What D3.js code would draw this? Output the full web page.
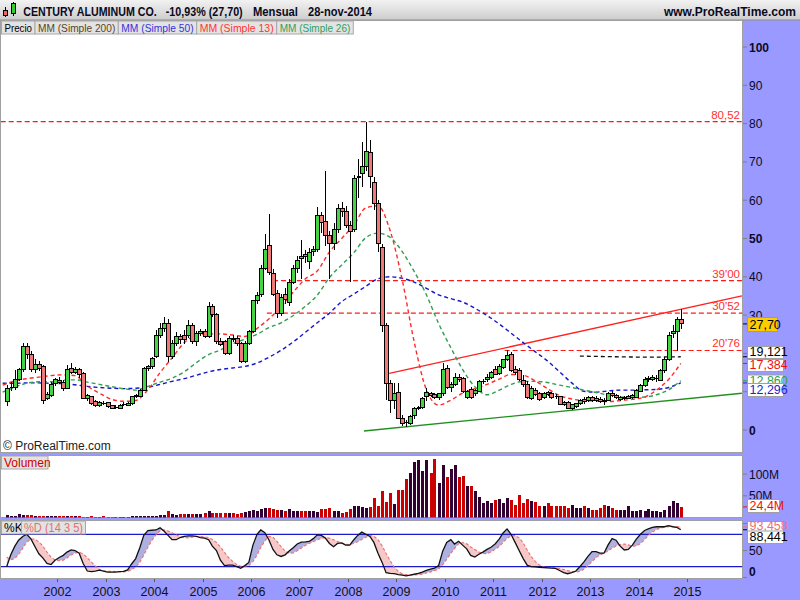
<!DOCTYPE html>
<html>
<head>
<meta charset="utf-8">
<script src="https://cdn.jsdelivr.net/npm/d3@7"></script>
<style>
html,body{margin:0;padding:0;background:#fff;}
svg{display:block;}
text{font-family:"Liberation Sans",Arial,Helvetica,sans-serif;}
</style>
</head>
<body>
<svg id="chart" width="800" height="600"></svg>
<script>
// ================= DATA =================
const titleParts = ["CENTURY ALUMINUM CO.", "-10,93% (27,70)", "Mensual", "28-nov-2014"];
const siteLabel = "www.ProRealTime.com";
const legendLabels = ["Precio", "MM (Simple 200)", "MM (Simple 50)", "MM (Simple 13)", "MM (Simple 26)"];
const firstCandle = "2000-12-15";   // monthly candles, Dec 2000 .. Nov 2014

const open = [7.4,10.9,11.2,13.2,15.7,21.9,19.6,15.7,17.0,16.5,8.3,9.1,12.2,12.9,12.4,10.9,16.1,15.0,15.8,14.8,
8.3,8.7,7.4,6.3,7.1,7.1,6.3,5.8,5.7,6.6,6.5,6.8,8.7,8.7,10.4,16.1,16.5,19.1,24.8,26.5,
27.9,19.1,22.6,24.5,24.8,24.8,27.4,23.1,25.3,25.8,24.5,32.2,30.1,23.1,23.1,20.0,23.9,24.0,22.6,17.9,
22.6,25.7,33.7,35.4,42.2,48.2,40.9,35.7,30.3,35.4,33.2,38.5,42.2,45.3,45.7,43.95,46.6,47.0,56.1,54.4,
50.9,48.7,52.4,57.9,57.0,53.5,52.4,66.0,67.0,68.9,72.5,64.7,59.2,47.7,27.2,12.2,7.7,9.8,3.05,2.1,
1.57,3.66,5.66,5.83,8.7,9.57,9.14,8.53,9.40,16.10,11.14,11.92,13.75,13.32,8.53,10.70,9.57,10.18,12.62,13.23,
13.75,15.67,14.80,16.36,18.28,19.84,15.84,15.49,13.05,12.01,8.27,10.44,9.40,8.53,9.83,9.40,8.88,8.70,7.14,7.14,
5.66,6.09,6.79,8.01,7.66,8.44,8.27,8.01,7.83,7.83,9.6,9.1,8.0,8.3,8.2,8.5,8.5,10.1,11.5,13.1,
13.2,13.5,13.05,15.5,18.45,25.2,25.7,28.8];
const high = [11.7,12.5,15.7,16.1,22.6,22.6,20.5,18.5,18.0,17.0,10.0,12.5,13.5,13.8,13.0,17.0,17.4,16.5,16.3,15.2,
9.5,9.0,7.8,7.5,7.5,7.3,6.6,6.4,6.8,7.2,7.3,9.0,9.5,10.8,16.5,17.0,19.0,26.0,28.0,29.6,
29.0,23.5,25.5,25.0,26.0,28.7,28.0,25.8,26.5,26.5,33.5,33.0,30.5,24.0,23.6,24.5,24.8,24.5,23.0,23.2,
26.0,34.0,36.0,43.0,51.3,56.4,42.0,36.5,35.5,37.0,39.5,43.0,45.5,49.6,47.0,47.5,48.0,58.1,57.0,67.6,
52.0,54.0,59.0,59.5,58.5,54.5,66.5,70.7,75.3,80.52,75.7,66.0,60.0,48.5,28.0,13.0,12.2,12.2,4.0,2.5,
4.0,6.0,6.3,8.5,10.9,10.0,9.6,9.6,17.4,17.0,12.5,14.8,14.5,13.8,10.5,11.2,10.7,13.0,13.2,14.5,
15.5,16.8,17.2,18.6,20.76,20.3,16.8,16.3,14.3,12.8,11.5,11.0,10.0,10.0,10.2,9.8,9.3,9.0,7.6,7.5,
6.9,7.1,8.0,8.6,8.9,9.0,8.8,8.5,8.3,10.0,10.2,9.4,8.9,8.9,9.2,9.3,10.6,12.0,13.9,14.0,
14.3,14.4,16.0,19.0,25.5,27.5,29.5,31.5];
const low = [6.3,10.2,10.5,12.8,15.2,18.5,15.2,15.0,15.5,6.9,7.8,8.7,11.5,11.9,10.2,10.6,14.5,14.6,13.5,8.0,
7.5,6.5,6.0,6.0,6.5,5.8,5.4,5.4,5.5,6.3,6.3,6.6,8.4,8.5,10.2,15.5,16.0,18.8,24.0,25.5,
17.8,18.5,22.0,22.5,22.5,24.0,22.5,22.0,24.5,24.0,24.0,29.5,22.5,22.0,19.6,19.6,23.0,22.0,17.4,17.5,
22.3,25.3,33.0,34.8,41.8,40.5,35.0,29.2,29.8,33.0,32.5,38.0,41.0,39.5,43.5,42.0,45.5,46.5,51.5,48.0,
39.4,47.0,51.5,55.5,52.8,38.7,51.8,60.6,63.5,67.5,63.1,57.5,46.5,25.5,7.8,4.4,5.5,2.8,1.1,0.9,
1.2,3.0,5.2,5.5,7.6,8.5,8.0,7.9,9.0,10.6,10.0,11.5,12.5,9.7,8.2,8.2,9.0,9.8,12.0,12.6,
13.4,14.3,14.4,16.0,17.9,15.2,14.4,12.8,11.3,8.2,7.9,9.0,7.7,8.0,8.8,8.2,8.1,6.4,6.2,5.4,
5.3,5.8,6.4,6.9,7.3,7.4,7.3,7.0,6.6,7.5,8.6,8.2,7.7,7.9,8.0,8.2,8.3,9.8,11.2,12.6,
12.9,12.6,12.8,15.0,18.0,24.0,20.5,26.5];
const close = [10.9,11.2,13.2,15.7,21.9,19.6,15.7,17.0,16.1,7.8,9.3,12.0,13.1,12.4,10.9,15.8,15.0,15.8,14.6,8.3,
8.9,6.8,6.3,7.1,6.8,6.1,5.7,6.0,6.5,6.8,7.0,8.7,9.1,10.4,16.1,16.5,18.7,24.8,26.5,27.9,
19.1,22.6,24.5,23.5,23.5,27.4,23.1,25.3,25.8,24.5,32.2,30.1,23.1,22.2,20.0,23.9,23.6,22.6,17.9,22.6,
25.7,33.7,35.2,42.2,47.2,41.2,35.4,30.5,34.5,34.0,38.5,42.2,44.2,44.8,45.3,46.4,47.0,56.1,54.1,50.9,
48.7,52.4,57.9,57.0,53.5,51.8,65.7,66.2,68.9,72.8,66.3,59.2,48.6,27.4,12.2,7.7,9.6,3.05,1.74,1.8,
3.48,5.66,5.83,8.18,9.83,8.88,8.53,9.40,15.84,11.14,11.92,13.66,13.23,10.18,10.18,8.53,10.44,12.62,12.80,13.66,
15.06,14.62,16.71,18.28,19.58,15.49,15.06,13.23,11.75,8.53,10.88,9.31,8.01,9.57,9.14,8.53,8.53,6.70,6.70,5.66,
6.53,6.79,7.66,7.40,8.53,7.83,7.66,7.40,7.40,9.57,8.9,8.5,8.5,8.5,8.7,8.9,10.2,11.5,13.1,13.5,
13.75,13.5,15.5,18.45,24.8,25.7,28.9,27.70];
// volume in millions
const volume = [6,3.5,3.5,8.3,6,6,6,3.5,3.5,3.5,3.5,3.5,
3.5,3.5,3.5,3.5,3.5,3.5,3.5,0.5,0.5,3.5,0.5,0.5,
3.5,0.5,0.5,0.5,0.5,0.5,0.5,3.5,3.5,3.5,3.5,3.5,
3.5,4.5,6,6,16,8.3,6,8.3,8.3,8.3,8.3,8.3,
8.3,11.4,16,11.4,11.4,11.4,11.4,11.4,9.8,8.3,11.4,13.7,
16,17.4,16,19,21,21.3,19,17.4,17.4,16,19,16,
16,16,14.5,14.5,16,13.7,19.8,19.8,21.3,15,15,11.4,
13.7,19.8,26.7,26.7,25.2,21.3,25.2,44.3,26.7,61.2,36.6,57.4,31.3,63.5,
63.4,88,103,129,133,108,133,103,135,80,121,94,111,121,94,96,73,73,61,48,33,37,34,40,42,34,44,40,29,52,
34,42,38,36,26.5,26.5,34,26.5,26.5,26.5,26.5,21,29,21,21,26.5,21,17,17,21,29,26.5,21,17,17,17,26.5,15.7,15.7,17,
15.7,19,15.7,15.7,13.4,17,26.5,38,34,24.4];
// stochastic %K and %D (14 3 5)
const stochK = [20,42,58,69,76,80,72,58,44,36,26,24,32,37,41,47,51,50,45,26,
12,11,12,13.5,12,10,10,10,11,11.5,14,25,35,55,78,87,87.5,88,92,86,
78,70,70,74,76,77,77,76,74,73,70,58,50,32,22,22.8,22.8,20,17,22,
28,60,80,88,83,70,52,42,39,42,49,55,62,65.5,66,66.7,72,79,78,73,
63,57,63,64,60,60,70,78,84,80,76,65,45,28,9,7.5,7,5.5,4.5,3.2,
4.5,6,7.5,10,13,15.5,17.5,22,48,65,70,62,67,60,53,41,38,43,47,52,
56,62,71,82,90,80,65,50,35,22.5,20,19.5,19,18.5,18,17.5,16.8,13,9,7,
9,12,20,29,39,48,48,45,45,60,72,69,58,51,52,60,71,80,87,90,
93,94,94,94,96,94,93,88.441];
const stochD = [38,33,35,42.8,54,65,71,71,66,58,47.2,37.6,32.4,31,32,36.2,41.6,45.2,46.8,43.8,
36.8,28.8,21.2,14.9,12.1,11.7,11.5,11.1,10.6,10.5,11.3,14.3,19.3,28.1,41.4,56,68.5,79.1,86.5,88.1,
86.3,82.8,79.2,75.6,73.6,73.4,74.8,76,76,75.4,74,70.2,65,56.6,46.4,37,29.9,23.9,20.9,20.9,
22,29.4,41.4,55.6,67.8,76.2,74.6,67,57.2,49,44.8,45.4,49.4,54.7,59.5,63,66.4,69.8,72.3,73.7,
73,70,66.8,64,61.4,60.8,63.4,66.4,70.4,74.4,77.6,76.6,70,58.8,44.6,30.9,19.3,11.4,6.7,5.5,
4.9,4.7,5.1,6.2,8.2,10.4,12.7,15.6,23.2,33.6,44.5,53.4,62.4,64.8,62.4,56.6,51.8,47,44.4,44.2,
47.2,52,57.6,64.6,72.2,77,77.6,73.4,64,50.5,38.5,29.4,23.2,19.9,19,18.5,18,16.8,14.9,12.7,
11,10,11.4,15.4,21.8,29.6,36.8,41.8,45,49.2,54,58.2,60.8,62,60.4,58,58.4,62.8,70,77.6,
84.2,88.8,91.6,93,94.2,94.4,94.2,93.458];
// moving averages, one value every 3 months from Nov 2000
const maStart = "2000-11-15";
const ma13 = [11.7,12.8,13.4,13.8,14.2,14.4,14.2,11.5,9.6,8.0,7.5,7.7,10.5,15.0,18.8,22.8,24.7,25.1,25.1,24.8,
24.4,26.5,29.0,32.2,36.0,39.5,41.5,46.5,50.0,53.5,58.0,58.5,52.0,39.0,23.0,10.5,6.5,7.8,9.6,10.8,
11.9,13.3,14.5,14.3,12.8,10.8,9.0,8.1,7.7,7.6,7.4,7.7,8.0,8.6,10.4,13.2,17.384];
const ma26 = [9.9,11.2,12.2,12.6,12.6,13.0,13.1,12.5,11.9,11.3,10.8,10.4,11.4,12.5,13.5,15.2,17.6,19.7,20.9,22.5,
23.7,25.0,26.7,28.0,29.9,32.3,35.2,39.8,43.1,46.3,50.2,51.4,50.3,46.5,41.4,35.3,27.8,21.5,15.8,11.3,
9.2,10.4,11.9,12.7,12.7,12.4,11.7,11.1,10.4,9.8,9.1,8.6,8.5,8.6,9.2,10.5,12.86];
const ma50 = [12.2,12.2,12.3,12.3,12.2,12.1,11.8,11.4,11.1,10.9,10.8,10.9,11.2,11.9,12.7,13.4,14.3,15.2,15.8,16.2,
16.6,17.5,19.0,20.8,23.0,25.5,28.0,30.5,33.5,35.5,37.5,39.5,40.0,39.6,38.6,37.0,35.3,34.3,33.4,31.8,
29.9,27.7,25.3,22.8,20.4,18.0,15.2,12.3,10.1,9.9,10.2,10.4,10.4,10.5,10.6,11.1,12.296];
const ma200Start = "2012-10-15";
const ma200 = [19.3,19.28,19.26,19.24,19.22,19.2,19.18,19.16,19.14,19.12,19.1,19.08,19.07,19.06,19.05,19.04,
19.03,19.03,19.03,19.04,19.05,19.06,19.08,19.09,19.1,19.121];
// horizontal levels and trend lines
const levels = [80.52, 39.00, 30.52, 20.76];
const levelLabels = ["80,52", "39'00", "30'52", "20'76"];
const levelStarts = ["2000-09-01", "2006-06-15", "2006-04-30", "2011-03-28"];
const trendRed = [["2008-11-08", 14.8], ["2016-02-19", 35.0]];
const trendGreen = [["2008-05-01", -0.26], ["2016-02-19", 9.6]];
const years = [2002,2003,2004,2005,2006,2007,2008,2009,2010,2011,2012,2013,2014,2015];
const priceTicks = [0,10,20,30,40,50,60,70,80,90,100];
const priceTickLabels = ["0","","","30","40","50","60","70","80","90","100"]; // 10 and 20 are covered by value boxes
const volTicks = [50,100];
const stochTicks = [0,50,100];
const stochTickLabels = ["0","50",""];  // 100 is covered by value boxes
const stochBands = [80,20];

// ================= SETUP =================
const parse = d3.timeParse("%Y-%m-%d");
const svg = d3.select("#chart");
const PL = 0.5, PR = 742.5;
const priceTop = 20.5, priceBot = 452.5;
const volTop = 455.5, volBot = 517.5;
const stTop = 520.5, stBot = 578.5;

const x = d3.scaleTime().domain([new Date(2002,0,1), new Date(2015,0,1)]).range([57.3, 687]);
const yP = d3.scaleLinear().domain([0,100]).range([430, 47]);
const yV = d3.scaleLinear().domain([0,100]).range([517.5, 474.1]);
const yS = d3.scaleLinear().domain([0,100]).range([577.5, 523.5]);

const d0 = parse(firstCandle);
const candles = close.map((c,i) => ({
  date: new Date(d0.getFullYear(), d0.getMonth()+i, 15),
  o: open[i], h: high[i], l: low[i], c: c, v: volume[i], k: stochK[i], d: stochD[i]
}));
const m0 = parse(maStart);
const maDate = i => new Date(m0.getFullYear(), m0.getMonth()+3*i, 15);
const m200 = parse(ma200Start);

const defs = svg.append("defs");
const grad = defs.append("linearGradient").attr("id","hdr").attr("x1",0).attr("y1",0).attr("x2",0).attr("y2",1);
grad.append("stop").attr("offset","0").attr("stop-color","#f2f2f2");
grad.append("stop").attr("offset","1").attr("stop-color","#cdcdcd");
function clip(id, x0, y0, x1, y1){
  defs.append("clipPath").attr("id",id).append("rect").attr("x",x0).attr("y",y0).attr("width",x1-x0).attr("height",y1-y0);
}
clip("cPrice", PL+0.5, priceTop+0.5, PR, priceBot);
clip("cVol", PL+0.5, volTop+0.5, PR, volBot);
clip("cSt", PL+0.5, stTop+0.5, PR, stBot);

// background
svg.append("rect").attr("width",800).attr("height",600).attr("fill","#9999ff");
// header
svg.append("rect").attr("x",0).attr("y",0).attr("width",800).attr("height",20).attr("fill","url(#hdr)");
svg.append("line").attr("x1",0).attr("x2",800).attr("y1",20).attr("y2",20).attr("stroke","#8a8a8a");
// icon
svg.append("line").attr("x1",5.5).attr("x2",5.5).attr("y1",7).attr("y2",17).attr("stroke","#000");
svg.append("rect").attr("x",3.5).attr("y",10.5).attr("width",4).attr("height",5).attr("fill","#ee6666").attr("stroke","#000");
svg.append("line").attr("x1",13.5).attr("x2",13.5).attr("y1",2).attr("y2",16).attr("stroke","#000");
svg.append("rect").attr("x",11.5).attr("y",3.5).attr("width",4).attr("height",10).attr("fill","#33cc33").attr("stroke","#000");
const titleX = [23.3, 165.7, 253, 308], titleW = [133.4, 77, 45, 64];
titleParts.forEach((t,i) => {
  svg.append("text").attr("x",titleX[i]).attr("y",15.5).attr("font-size",12).attr("font-weight","bold")
    .attr("fill","#0a0a1e").attr("textLength",titleW[i]).attr("lengthAdjust","spacingAndGlyphs").text(t);
});
svg.append("text").attr("x",796).attr("y",15.5).attr("text-anchor","end").attr("font-size",12).attr("font-weight","bold")
  .attr("fill","#0a0a1e").text(siteLabel);

// panels
[[priceTop,priceBot],[volTop,volBot],[stTop,stBot]].forEach(([a,b]) => {
  svg.append("rect").attr("x",PL).attr("y",a).attr("width",PR-PL).attr("height",b-a)
    .attr("fill","#fff").attr("stroke","#a0a0a0");
});

// ================= PRICE PANEL =================
const gp = svg.append("g").attr("clip-path","url(#cPrice)");
levels.forEach((lv,i) => {
  gp.append("line").attr("x1",x(parse(levelStarts[i]))).attr("x2",PR).attr("y1",yP(lv)).attr("y2",yP(lv))
    .attr("stroke","#ff1a1a").attr("stroke-width",1.2).attr("stroke-dasharray","5,3");
});
[[trendRed,"#ff2020"],[trendGreen,"#209020"]].forEach(([t,col]) => {
  gp.append("line").attr("x1",x(parse(t[0][0]))).attr("y1",yP(t[0][1])).attr("x2",x(parse(t[1][0]))).attr("y2",yP(t[1][1]))
    .attr("stroke",col).attr("stroke-width",1.3);
});
const maLine = d3.line().x(d => x(d[0])).y(d => yP(d[1])).curve(d3.curveMonotoneX);
[[ma50,"#1515cc"],[ma26,"#2f9f4f"],[ma13,"#ff2a2a"]].forEach(([arr,col]) => {
  gp.append("path").attr("d", maLine(arr.map((v,i) => [maDate(i), v])))
    .attr("fill","none").attr("stroke",col).attr("stroke-width",1.4).attr("stroke-dasharray","4,3");
});
gp.append("path").attr("d", maLine(ma200.map((v,i) => [new Date(m200.getFullYear(), m200.getMonth()+i, 15), v])))
  .attr("fill","none").attr("stroke","#111").attr("stroke-width",1.3).attr("stroke-dasharray","4,3");
const gc = gp.append("g").attr("shape-rendering","crispEdges");
candles.forEach(d => {
  const cx = Math.round(x(d.date)) + 0.5;
  gc.append("line").attr("x1",cx).attr("x2",cx).attr("y1",yP(d.h)).attr("y2",yP(d.l)).attr("stroke","#000");
  const top = yP(Math.max(d.o,d.c)), bot = yP(Math.min(d.o,d.c));
  if (bot - top < 1.5) {
    gc.append("line").attr("x1",cx-2).attr("x2",cx+2).attr("y1",(top+bot)/2).attr("y2",(top+bot)/2)
      .attr("stroke","#000").attr("stroke-width",1.5);
  } else {
    gc.append("rect").attr("x",cx-2).attr("y",top).attr("width",3.5).attr("height",bot-top)
      .attr("fill", d.c >= d.o ? "#44d444" : "#ef7878").attr("stroke","#000").attr("stroke-width",1);
  }
});
levels.forEach((lv,i) => {
  svg.append("text").attr("x",740).attr("y",yP(lv)-3).attr("text-anchor","end").attr("font-size",11.5)
    .attr("fill","#ff3030").text(levelLabels[i]);
});
const legX = [1.5, 35, 118.3, 196.7, 276.7, 353.3];
const legCol = ["#000000","#5c4422","#3333dd","#ff3333","#2fa060"];
legendLabels.forEach((t,i) => {
  svg.append("rect").attr("x",legX[i]).attr("y",21).attr("width",legX[i+1]-legX[i]).attr("height",13)
    .attr("fill","#e3e3e3").attr("stroke","#a8a8a8");
  svg.append("text").attr("x",legX[i]+3).attr("y",31.5).attr("font-size",11).attr("fill",legCol[i])
    .attr("textLength",legX[i+1]-legX[i]-6).attr("lengthAdjust","spacingAndGlyphs").text(t);
});
svg.append("text").attr("x",3).attr("y",450).attr("font-size",12).attr("fill","#222").text("\u00A9 ProRealTime.com");

// ================= VOLUME PANEL =================
const gv = svg.append("g").attr("clip-path","url(#cVol)").attr("shape-rendering","crispEdges");
candles.forEach(d => {
  const cx = Math.round(x(d.date));
  gv.append("rect").attr("x",cx-1).attr("y",yV(d.v)).attr("width",3).attr("height",Math.max(0,yV(0)-yV(d.v)))
    .attr("fill", d.c >= d.o ? "#330033" : "#cc0000");
});
svg.append("rect").attr("x",1.5).attr("y",456).attr("width",46.5).attr("height",13).attr("fill","#e3e3e3").attr("stroke","#a8a8a8");
svg.append("text").attr("x",4).attr("y",466.5).attr("font-size",12).attr("fill","#cc0000").text("Volumen");

// ================= STOCHASTIC PANEL =================
const gs = svg.append("g").attr("clip-path","url(#cSt)");
const aboveD = d3.area().x(d => x(d.date)).y0(stTop).y1(d => yS(d.d));
const belowD = d3.area().x(d => x(d.date)).y0(stBot).y1(d => yS(d.d));
defs.append("clipPath").attr("id","cAbove").append("path").attr("d",aboveD(candles));
defs.append("clipPath").attr("id","cBelow").append("path").attr("d",belowD(candles));
const band = d3.area().x(d => x(d.date)).y0(d => yS(d.d)).y1(d => yS(d.k));
gs.append("g").attr("clip-path","url(#cAbove)").append("path").attr("d",band(candles)).attr("fill","#aeb0e2");
gs.append("g").attr("clip-path","url(#cBelow)").append("path").attr("d",band(candles)).attr("fill","#f6c8c8");
stochBands.forEach(b => {
  gs.append("line").attr("x1",PL).attr("x2",PR).attr("y1",yS(b)).attr("y2",yS(b)).attr("stroke","#1a1acc").attr("stroke-width",1.3);
});
gs.append("path").attr("d", d3.line().x(d => x(d.date)).y(d => yS(d.d))(candles))
  .attr("fill","none").attr("stroke","#ee7070").attr("stroke-width",1.1).attr("stroke-dasharray","3,2");
gs.append("path").attr("d", d3.line().x(d => x(d.date)).y(d => yS(d.k))(candles))
  .attr("fill","none").attr("stroke","#111").attr("stroke-width",1.3);
svg.append("rect").attr("x",1.5).attr("y",521).attr("width",20).attr("height",13).attr("fill","#e3e3e3").attr("stroke","#a8a8a8");
svg.append("text").attr("x",4).attr("y",531.5).attr("font-size",12).attr("fill","#000").text("%K");
svg.append("rect").attr("x",21.5).attr("y",521).attr("width",64).attr("height",13).attr("fill","#e3e3e3").attr("stroke","#a8a8a8");
svg.append("text").attr("x",24).attr("y",531.5).attr("font-size",12).attr("fill","#e07070")
  .attr("textLength",59).attr("lengthAdjust","spacingAndGlyphs").text("%D (14 3 5)");

// ================= AXES =================
const axisCol = "#0a0a2a";
function rTick(y, col){ svg.append("line").attr("x1",743).attr("x2",747).attr("y1",y).attr("y2",y).attr("stroke",col||"#808080"); }
priceTicks.forEach((v,i) => {
  rTick(yP(v));
  if (priceTickLabels[i]) svg.append("text").attr("x",749).attr("y",yP(v)+4.5).attr("font-size",12)
    .attr("font-weight", (v%50===0) ? "bold" : "normal").attr("fill",axisCol).text(priceTickLabels[i]);
});
volTicks.forEach(v => {
  rTick(yV(v));
  svg.append("text").attr("x",749).attr("y",yV(v)+4.5).attr("font-size",12).attr("fill",axisCol).text(v+"M");
});
stochTicks.forEach((v,i) => {
  rTick(yS(v));
  if (stochTickLabels[i]) svg.append("text").attr("x",749).attr("y",v===0 ? 576 : yS(v)+4.5).attr("font-size",12)
    .attr("font-weight", v===0 ? "bold" : "normal").attr("fill",axisCol).text(stochTickLabels[i]);
});
years.forEach(yr => {
  const xx = Math.round(x(new Date(yr,0,1))) + 0.5;
  svg.append("line").attr("x1",xx).attr("x2",xx).attr("y1",579).attr("y2",582).attr("stroke","#555");
  svg.append("text").attr("x",xx).attr("y",596).attr("text-anchor","middle").attr("font-size",12.5).attr("fill","#111").text(yr);
});

function valBox(valY, y0, y1, txt, col, bg, tickCol, w){
  rTick(valY, tickCol);
  svg.append("rect").attr("x",747.5).attr("y",y0).attr("width",w).attr("height",y1-y0)
    .attr("fill",bg).attr("stroke", bg==="#ffcc00" ? "#c9a000" : "#a0a0a0");
  svg.append("text").attr("x",749.5).attr("y",y1-2.5).attr("font-size",12.5).attr("fill",col).text(txt);
}
valBox(yP(close[close.length-1]), 317.5, 331.5, "27,70", "#000", "#ffcc00", "#000", 30);
valBox(yP(ma200[ma200.length-1]), 346.5, 358.5, "19,121", "#000", "#fff", "#000", 36);
valBox(yP(ma13[ma13.length-1]), 359.5, 371.5, "17,384", "#ee1111", "#fff", "#ee1111", 36);
valBox(yP(ma26[ma26.length-1]), 375, 387, "12,860", "#2f9f4f", "#fff", "#2f9f4f", 36);
valBox(yP(ma50[ma50.length-1]), 383.5, 396.5, "12,296", "#2222cc", "#fff", "#2222cc", 36);
valBox(yV(volume[volume.length-1]), 499.5, 512.5, "24,4M", "#ee1111", "#fff", "#ee1111", 32);
valBox(yS(stochD[stochD.length-1]), 521.5, 532, "93,458", "#ee7070", "#fff", "#ee7070", 36);
valBox(yS(stochK[stochK.length-1]), 531, 543.5, "88,441", "#000", "#fff", "#000", 36);
</script>
</body>
</html>
